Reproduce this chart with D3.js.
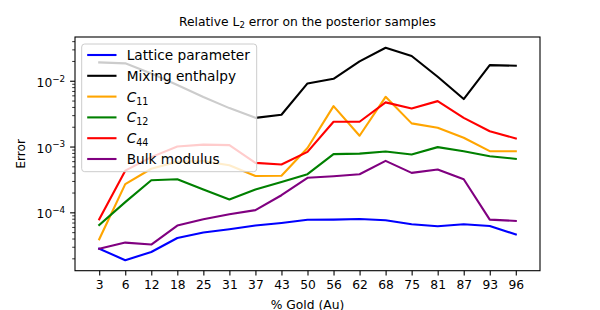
<!DOCTYPE html>
<html>
<head>
<meta charset="utf-8">
<script src="https://cdn.jsdelivr.net/npm/d3@7"></script>
<style>
  body { margin: 0; background: #fff; }
  svg text { font-family: "DejaVu Sans", sans-serif; fill: #000; }
</style>
</head>
<body>
<svg id="chart" width="600" height="310"></svg>
<script>
// data
const goldPct = ["3", "6", "12", "18", "25", "31", "37", "43", "50", "56", "62", "68", "75", "81", "87", "93", "96"];

const latticeErr = [2.81e-5, 1.87e-5, 2.50e-5, 4.07e-5, 4.93e-5, 5.53e-5, 6.30e-5, 6.90e-5, 7.71e-5, 7.75e-5, 7.94e-5, 7.6e-5, 6.6e-5, 6.15e-5, 6.6e-5, 6.2e-5, 4.6e-5];
const mixingErr  = [1.9e-2, 1.84e-2, 1.29e-2, 8.6e-3, 5.65e-3, 3.84e-3, 2.73e-3, 3.04e-3, 9.1e-3, 1.07e-2, 1.97e-2, 3.18e-2, 2.38e-2, 1.15e-2, 5.27e-3, 1.73e-2, 1.69e-2];
const c11Err     = [3.9e-5, 2.68e-4, 4.6e-4, 5.9e-4, 6.0e-4, 5.2e-4, 3.56e-4, 3.6e-4, 9.5e-4, 4.12e-3, 1.46e-3, 5.7e-3, 2.25e-3, 1.93e-3, 1.36e-3, 8.5e-4, 8.5e-4];
const c12Err     = [6.43e-5, 1.43e-4, 3.08e-4, 3.19e-4, 2.22e-4, 1.57e-4, 2.22e-4, 2.9e-4, 3.8e-4, 7.66e-4, 7.8e-4, 8.42e-4, 7.58e-4, 9.8e-4, 8.5e-4, 7.14e-4, 6.5e-4];
const c44Err     = [7.85e-5, 4.3e-4, 6.9e-4, 1.0e-3, 1.07e-3, 1.05e-3, 5.65e-4, 5.33e-4, 8.3e-4, 2.38e-3, 2.38e-3, 4.69e-3, 3.8e-3, 4.9e-3, 2.73e-3, 1.71e-3, 1.33e-3];
const bulkErr    = [2.8e-5, 3.47e-5, 3.24e-5, 6.3e-5, 7.85e-5, 9.35e-5, 1.08e-4, 1.82e-4, 3.35e-4, 3.54e-4, 3.8e-4, 6.06e-4, 3.98e-4, 4.48e-4, 3.19e-4, 7.75e-5, 7.4e-5];

const seriesNames  = ["Lattice parameter", "Mixing enthalpy", "C|11", "C|12", "C|44", "Bulk modulus"];
const seriesColors = ["blue", "black", "orange", "green", "red", "purple"];
const yMajorTicks  = [1e-4, 1e-3, 1e-2];

const series = [latticeErr, mixingErr, c11Err, c12Err, c44Err, bulkErr]
  .map((v, i) => ({ name: seriesNames[i], color: seriesColors[i], values: v }));

// layout
const svg = d3.select("#chart");
const plotL = 75, plotR = 540, plotT = 37, plotB = 270.7;

const x = d3.scalePoint().domain(goldPct).range([plotL, plotR]).padding(0.93);
const y = d3.scaleLog().domain([Math.pow(10, -4.887), Math.pow(10, -1.335)]).range([plotB, plotT]);

// lines
const line = d3.line()
  .x((d, i) => x(goldPct[i]))
  .y(d => y(d));

svg.append("g")
  .selectAll("path")
  .data(series)
  .join("path")
    .attr("d", d => line(d.values))
    .attr("fill", "none")
    .attr("stroke", d => d.color)
    .attr("stroke-width", 2.1)
    .attr("stroke-linejoin", "round")
    .attr("stroke-linecap", "square");

// x axis
const xAxis = svg.append("g")
  .attr("transform", `translate(0,${plotB})`)
  .call(d3.axisBottom(x).tickSize(4.9).tickPadding(4.5));
xAxis.select(".domain").remove();
xAxis.selectAll("text").attr("font-size", 12.3).attr("font-family", "DejaVu Sans");
xAxis.selectAll("line").attr("stroke", "#000").attr("stroke-width", 1.1);

// y axis minor ticks
const [lo, hi] = y.domain();
const minor = [];
for (let e = -6; e <= 0; e++) {
  for (let m = 2; m <= 9; m++) {
    const v = m * Math.pow(10, e);
    if (v >= lo && v <= hi) minor.push(v);
  }
}
const yMinor = svg.append("g")
  .attr("transform", `translate(${plotL},0)`)
  .call(d3.axisLeft(y).tickValues(minor).tickSize(2.8).tickFormat(""));
yMinor.select(".domain").remove();
yMinor.selectAll("line").attr("stroke", "#000").attr("stroke-width", 0.8);

// y axis major ticks with 10^n labels
const yAxis = svg.append("g")
  .attr("transform", `translate(${plotL},0)`)
  .call(d3.axisLeft(y).tickValues(yMajorTicks).tickSize(4.9).tickPadding(4.9).tickFormat(""));
yAxis.select(".domain").remove();
yAxis.selectAll("line").attr("stroke", "#000").attr("stroke-width", 1.1);
yAxis.selectAll(".tick text")
  .attr("font-size", 12.3)
  .attr("font-family", "DejaVu Sans")
  .attr("dy", "0.45em")
  .each(function(d) {
    const t = d3.select(this);
    t.append("tspan").text("10");
    t.append("tspan").attr("font-size", 8.8).attr("dy", -5.2)
      .text("\u2212" + Math.abs(Math.round(Math.log10(d))));
  });

// frame
svg.append("rect")
  .attr("x", plotL).attr("y", plotT)
  .attr("width", plotR - plotL).attr("height", plotB - plotT)
  .attr("fill", "none").attr("stroke", "#000").attr("stroke-width", 1.1);

// labels
const title = svg.append("text")
  .attr("x", (plotL + plotR) / 2).attr("y", 25.5)
  .attr("text-anchor", "middle").attr("font-size", 12.3);
title.append("tspan").text("Relative L");
title.append("tspan").attr("font-size", 8.6).attr("dy", 2.6).text("2");
title.append("tspan").attr("dy", -2.6).text(" error on the posterior samples");

svg.append("text")
  .attr("x", (plotL + plotR) / 2).attr("y", 308.5)
  .attr("text-anchor", "middle").attr("font-size", 12.3)
  .text("% Gold (Au)");

svg.append("text")
  .attr("transform", `translate(24.5,${(plotT + plotB) / 2}) rotate(-90)`)
  .attr("text-anchor", "middle").attr("font-size", 12.3)
  .text("Error");

// legend
const legend = svg.append("g");
legend.append("rect")
  .attr("x", 81.7).attr("y", 44)
  .attr("width", 175).attr("height", 127.7)
  .attr("rx", 3)
  .attr("fill", "#fff").attr("fill-opacity", 0.8)
  .attr("stroke", "#ccc").attr("stroke-width", 1);

const rows = legend.selectAll("g.row")
  .data(series)
  .join("g")
    .attr("class", "row")
    .attr("transform", (d, i) => `translate(0,${55 + i * 20.8})`);

rows.append("line")
  .attr("x1", 87.2).attr("x2", 116.5)
  .attr("stroke", d => d.color).attr("stroke-width", 2.1);

rows.append("text")
  .attr("x", 126.7).attr("y", 5)
  .attr("font-size", 13.7)
  .each(function(d) {
    const t = d3.select(this);
    if (d.name.includes("|")) {
      const [base, sub] = d.name.split("|");
      t.append("tspan").attr("font-style", "italic").text(base);
      t.append("tspan").attr("font-size", 9.6).attr("dy", 3).text(sub);
    } else {
      t.text(d.name);
    }
  });
</script>
</body>
</html>
